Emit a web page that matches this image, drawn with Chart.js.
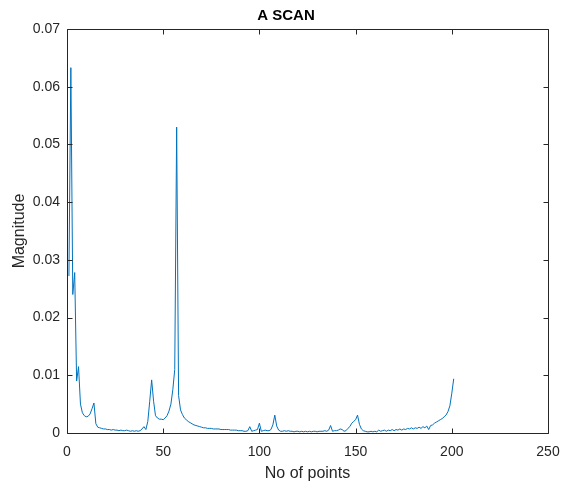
<!DOCTYPE html>
<html>
<head>
<meta charset="utf-8">
<script src="https://cdn.jsdelivr.net/npm/chart.js@4.4.0/dist/chart.umd.min.js"></script>
<style>
  html, body { margin: 0; padding: 0; background: #fff; }
</style>
</head>
<body>
<canvas id="chart" width="561" height="486"></canvas>
<script>
// textos
var titulo = "A SCAN";
var tituloX = "No of points";
var tituloY = "Magnitude";

// escalas
var xTicks = [0, 50, 100, 150, 200, 250];
var yTicks = [0, 0.01, 0.02, 0.03, 0.04, 0.05, 0.06, 0.07];

// magnitud por punto (puntos 1..201)
var magnitud = [
  0.0272, 0.0633, 0.0240, 0.0278, 0.0090, 0.0115, 0.0050, 0.0035, 0.0030, 0.0028,
  0.0029, 0.0033, 0.0042, 0.0052, 0.0016, 0.0010, 0.0009, 0.0008, 0.0007, 0.0007,
  0.0006, 0.0006, 0.0005, 0.0006, 0.0005, 0.0005, 0.0004, 0.0005, 0.0004, 0.0004,
  0.0005, 0.0004, 0.0003, 0.0004, 0.0003, 0.0004, 0.0003, 0.0004, 0.0007, 0.0011,
  0.0006, 0.0020, 0.0055, 0.0092, 0.0055, 0.0030, 0.0026, 0.0024, 0.0024, 0.0023,
  0.0026, 0.0030, 0.0038, 0.0050, 0.0075, 0.0110, 0.0530, 0.0065, 0.0040, 0.0032,
  0.0026, 0.0023, 0.0020, 0.0018, 0.0016, 0.0014, 0.0013, 0.0012, 0.0011, 0.0010,
  0.0009, 0.0009, 0.0008, 0.0008, 0.0008, 0.0007, 0.0007, 0.0007, 0.0007, 0.0006,
  0.0006, 0.0006, 0.0006, 0.0006, 0.0005, 0.0005, 0.0005, 0.0005, 0.0004, 0.0004,
  0.0004, 0.0003, 0.0003, 0.0004, 0.0011, 0.0003, 0.0004, 0.0005, 0.0006, 0.0017,
  0.0003, 0.0004, 0.0005, 0.0004, 0.0004, 0.0006, 0.0014, 0.0031, 0.0012, 0.0005,
  0.0003, 0.0003, 0.0004, 0.0003, 0.0004, 0.0003, 0.0003, 0.0002, 0.0003, 0.0003,
  0.0002, 0.0003, 0.0002, 0.0003, 0.0002, 0.0003, 0.0002, 0.0003, 0.0003, 0.0002,
  0.0003, 0.0003, 0.0003, 0.0004, 0.0003, 0.0005, 0.0013, 0.0003, 0.0004, 0.0004,
  0.0005, 0.0007, 0.0006, 0.0003, 0.0004, 0.0008, 0.0011, 0.0017, 0.0020, 0.0023,
  0.0031, 0.0015, 0.0007, 0.0004, 0.0003, 0.0002, 0.0002, 0.0003, 0.0002, 0.0003,
  0.0002, 0.0005, 0.0003, 0.0004, 0.0005, 0.0003, 0.0005, 0.0004, 0.0006, 0.0004,
  0.0006, 0.0005, 0.0007, 0.0005, 0.0007, 0.0006, 0.0008, 0.0007, 0.0009, 0.0007,
  0.0009, 0.0008, 0.0010, 0.0008, 0.0011, 0.0009, 0.0012, 0.0006, 0.0013, 0.0014,
  0.0017, 0.0019, 0.0021, 0.0023, 0.0025, 0.0028, 0.0031, 0.0037, 0.0047, 0.0069,
  0.0094
];

var puntos = magnitud.map(function(v, i){ return { x: i + 1, y: v }; });

var fuente = '"Liberation Sans", Arial, Helvetica, sans-serif';
var gris = "#262626";

// caja y marcas hacia adentro, estilo MATLAB
var cajaPlugin = {
  id: "caja",
  afterDraw: function(chart){
    var ctx = chart.ctx, a = chart.chartArea;
    var sx = chart.scales.x, sy = chart.scales.y;
    var L = Math.round(a.left) + 0.5, R = Math.round(a.right) + 0.5;
    var T = Math.round(a.top) + 0.5, B = Math.round(a.bottom) + 0.5;
    ctx.save();
    ctx.strokeStyle = gris;
    ctx.lineWidth = 1;
    ctx.beginPath();
    ctx.rect(L, T, R - L, B - T);
    sx.ticks.forEach(function(t){
      var px = Math.round(sx.getPixelForValue(t.value)) + 0.5;
      ctx.moveTo(px, B); ctx.lineTo(px, B - 5);
      ctx.moveTo(px, T); ctx.lineTo(px, T + 5);
    });
    sy.ticks.forEach(function(t){
      var py = Math.round(sy.getPixelForValue(t.value)) + 0.5;
      ctx.moveTo(L, py); ctx.lineTo(L + 5, py);
      ctx.moveTo(R, py); ctx.lineTo(R - 5, py);
    });
    ctx.stroke();
    // titulo
    ctx.fillStyle = "#000";
    ctx.font = "bold 15px " + fuente;
    ctx.textAlign = "center";
    ctx.textBaseline = "middle";
    ctx.fillText(titulo, 286, 16);
    ctx.restore();
  }
};

var canvas = document.getElementById("chart").getContext("2d");
window.grafico = new Chart(canvas, {
  type: "line",
  data: {
    datasets: [{
      data: puntos,
      borderColor: "#0072BD",
      borderWidth: 1,
      pointRadius: 0,
      tension: 0,
      fill: false
    }]
  },
  options: {
    responsive: false,
    animation: false,
    devicePixelRatio: 1,
    layout: { padding: { top: 29, right: 13, left: 0, bottom: 0 } },
    plugins: { legend: { display: false }, tooltip: { enabled: false }, title: { display: false } },
    scales: {
      x: {
        type: "linear",
        min: xTicks[0],
        max: xTicks[xTicks.length - 1],
        afterBuildTicks: function(s){ s.ticks = xTicks.map(function(v){ return { value: v }; }); },
        afterFit: function(s){ s.height = 53; s.paddingLeft = 0; s.paddingRight = 0; },
        grid: { display: false, drawTicks: false },
        border: { display: false },
        ticks: { padding: 11, color: gris, font: { family: fuente, size: 14 }, maxRotation: 0 },
        title: { display: true, text: tituloX, color: gris, font: { family: fuente, size: 16 }, padding: { top: 0, bottom: 3 } }
      },
      y: {
        min: yTicks[0],
        max: yTicks[yTicks.length - 1],
        afterBuildTicks: function(s){ s.ticks = yTicks.map(function(v){ return { value: v }; }); },
        afterFit: function(s){ s.width = 67; s.paddingTop = 0; s.paddingBottom = 0; },
        grid: { display: false, drawTicks: false },
        border: { display: false },
        ticks: {
          padding: 7, color: gris, font: { family: fuente, size: 14 },
          callback: function(v){ return v === 0 ? "0" : v.toFixed(2); }
        },
        title: { display: true, text: tituloY, color: gris, font: { family: fuente, size: 16 }, padding: { top: 10, bottom: 0 } }
      }
    }
  },
  plugins: [cajaPlugin]
});
</script>
</body>
</html>
